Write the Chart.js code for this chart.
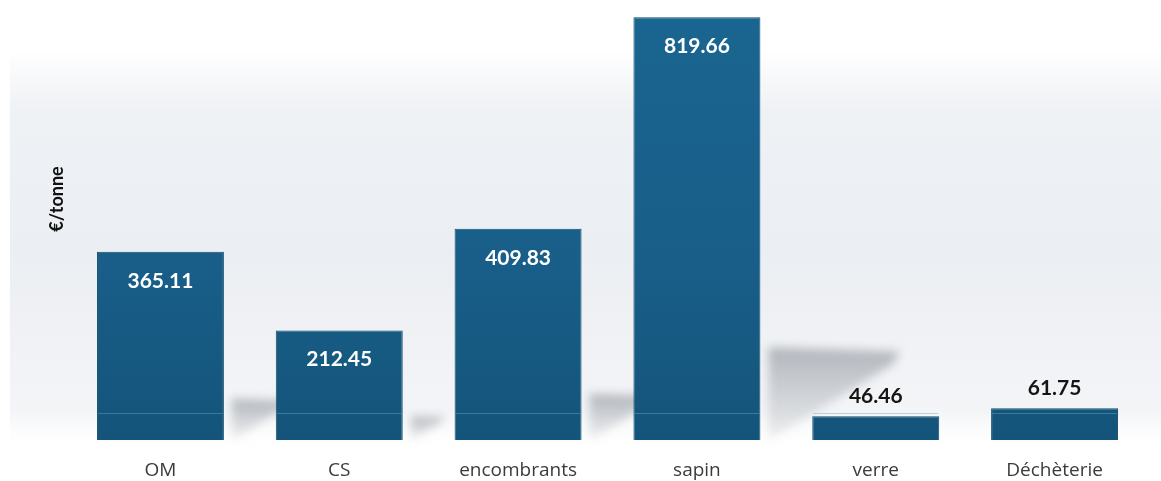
<!DOCTYPE html>
<html lang="fr">
<head>
<meta charset="utf-8">
<title>Coût par tonne</title>
<script src="https://cdn.jsdelivr.net/npm/chart.js@4.4.1/dist/chart.umd.min.js"></script>
<style>
  html, body { margin: 0; padding: 0; background: #ffffff; }
  #wrap { position: relative; width: 1161px; height: 481px; }
</style>
</head>
<body>
<div id="wrap"><canvas id="costChart"></canvas></div>
<script>
// Coût de traitement par flux (€/tonne)
const categories = ['OM', 'CS', 'encombrants', 'sapin', 'verre', 'Déchèterie'];
const costPerTonne = [365.11, 212.45, 409.83, 819.66, 46.46, 61.75];
const axisTitle = '€/tonne';

// Soft grey backdrop behind the plot
const backdrop = {
    id: 'backdrop',
    beforeDraw(chart) {
        const { ctx, width, height } = chart;
        ctx.save();
        ctx.fillStyle = '#ffffff';
        ctx.fillRect(0, 0, width, height);
        const g = ctx.createLinearGradient(0, 50, 0, 452);
        g.addColorStop(0, 'rgba(236,239,243,0)');
        g.addColorStop(0.15, 'rgba(237,240,244,0.9)');
        g.addColorStop(0.5, 'rgba(235,238,242,1)');
        g.addColorStop(0.9, 'rgba(240,242,245,0.8)');
        g.addColorStop(1, 'rgba(255,255,255,0)');
        ctx.fillStyle = g;
        ctx.fillRect(10, 50, width - 10, 402);
        ctx.restore();
    },
    // soft wedge shadows to the right of each bar
    beforeDatasetsDraw(chart) {
        const { ctx } = chart;
        const meta = chart.getDatasetMeta(0);
        ctx.save();
        ctx.filter = 'blur(5px)';
        meta.data.forEach(bar => {
            const h = bar.base - bar.y;
            if (h < 60) return;
            const x0 = bar.x + bar.width / 2 + 8;
            const top = bar.base - h * 0.22;
            const w = h * 0.31;
            const g = ctx.createLinearGradient(0, top, 0, bar.base);
            g.addColorStop(0, 'rgba(135,140,148,0.6)');
            g.addColorStop(1, 'rgba(160,165,172,0.15)');
            ctx.fillStyle = g;
            ctx.beginPath();
            ctx.moveTo(x0, top);
            ctx.lineTo(x0 + w, top + h * 0.01);
            ctx.lineTo(x0 + w * 0.95, top + h * 0.04);
            ctx.lineTo(x0, bar.base);
            ctx.closePath();
            ctx.fill();
        });
        ctx.restore();
    }
};

// Value labels, plinth line on bars and rotated axis title
const barDecor = {
    id: 'barDecor',
    afterDatasetsDraw(chart) {
        const { ctx } = chart;
        const meta = chart.getDatasetMeta(0);
        ctx.save();
        meta.data.forEach((bar, i) => {
            const left = bar.x - bar.width / 2;
            ctx.strokeStyle = 'rgba(110,165,200,0.45)';
            ctx.lineWidth = 1;
            ctx.beginPath();
            ctx.moveTo(left + 1, Math.round(bar.base - 27) + 0.5);
            ctx.lineTo(left + bar.width - 1, Math.round(bar.base - 27) + 0.5);
            ctx.stroke();

            const val = costPerTonne[i];
            const inside = bar.base - bar.y > 60;
            ctx.font = 'bold 21px Lato';
            ctx.textAlign = 'center';
            ctx.textBaseline = 'middle';
            ctx.fillStyle = inside ? '#ffffff' : '#151515';
            ctx.fillText(val.toFixed(2), bar.x, inside ? bar.y + 29 : bar.y - 20);
        });

        ctx.translate(57, 199);
        ctx.rotate(-Math.PI / 2);
        ctx.font = 'bold 18px Lato';
        ctx.fillStyle = '#111111';
        ctx.textAlign = 'center';
        ctx.textBaseline = 'middle';
        ctx.fillText(axisTitle, 0, 0);
        ctx.restore();
    }
};

const ctx = document.getElementById('costChart').getContext('2d');
new Chart(ctx, {
    type: 'bar',
    data: {
        labels: categories,
        datasets: [{
            data: costPerTonne,
            backgroundColor(c) {
                const area = c.chart.chartArea;
                if (!area) return '#195f8a';
                const g = c.chart.ctx.createLinearGradient(0, area.top, 0, area.bottom);
                g.addColorStop(0, '#1a6591');
                g.addColorStop(0.6, '#185e88');
                g.addColorStop(1, '#14547a');
                return g;
            },
            borderColor: '#124c6c',
            borderWidth: 1,
            borderSkipped: 'bottom',
            categoryPercentage: 0.71,
            barPercentage: 1
        }]
    },
    options: {
        responsive: true,
        maintainAspectRatio: false,
        animation: false,
        layout: { padding: { left: 71, right: 17, top: 12, bottom: -12 } },
        plugins: {
            legend: { display: false },
            tooltip: { enabled: false }
        },
        scales: {
            x: {
                grid: { display: false },
                border: { display: false },
                ticks: {
                    color: '#3b3b3b',
                    padding: 11,
                    font: { family: 'Open Sans', size: 19 }
                }
            },
            y: {
                display: false,
                min: 0,
                max: 830
            }
        }
    },
    plugins: [backdrop, barDecor]
});
</script>
</body>
</html>
